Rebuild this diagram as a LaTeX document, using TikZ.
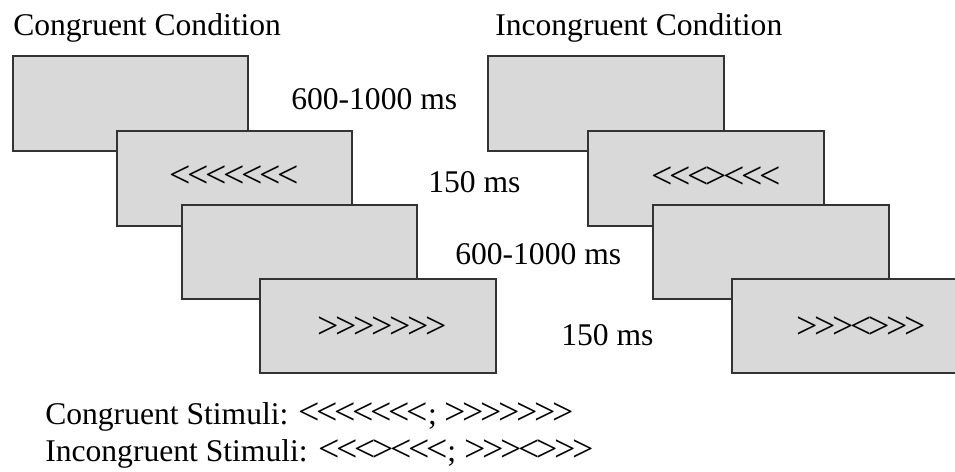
\documentclass[tikz,border=0pt]{standalone}
\usepackage{fontspec}
\setmainfont{Liberation Serif}[Ligatures=TeXOff]
\newfontfamily\chevfont{Liberation Serif}[Ligatures=TeXOff,Scale=1.2,LetterSpace=-9]
\begin{document}
\begin{tikzpicture}[x=0.75pt,y=-0.75pt,
  screen/.style={draw=black!80,line width=1.1pt,fill=black!15},
  lbl/.style={anchor=base west,inner sep=0pt,font=\fontsize{23.7}{28}\selectfont},
  stim/.style={anchor=base west,inner sep=0pt,font=\fontsize{23.7}{28}\selectfont\chevfont}]
\useasboundingbox (0,0) rectangle (955,471);
\clip (0,0) rectangle (955,471);
% titles
\node[lbl] (tc) at (13,35) {Congruent Condition};
\node[lbl] (ti) at (495,35) {Incongruent Condition};
% left column screens
\draw[screen] (13,56) rectangle (248,151) coordinate (l1);
\draw[screen] (117,131) rectangle (352,226) coordinate (l2);
\draw[screen] (182,205) rectangle (417,299) coordinate (l3);
\draw[screen] (260,279) rectangle (496,373) coordinate (l4);
\node[stim] (sl2) at (169,187) {<<<<<<<};
\node[stim] (sl4) at (317,338) {>>>>>>>};
% right column screens
\draw[screen] (488,56) rectangle (724,151) coordinate (r1);
\draw[screen] (588,131) rectangle (824,226) coordinate (r2);
\draw[screen] (653,205) rectangle (889,299) coordinate (r3);
\draw[screen] (732,279) rectangle (968,373) coordinate (r4);
\node[stim] (sr2) at (651,188) {<<<><<<};
\node[stim] (sr4) at (796,338) {>>><>>>};
% durations
\node[lbl] (d1) at (291,109) {600-1000 ms};
\node[lbl] (d2) at (428,192) {150 ms};
\node[lbl] (d3) at (455,264) {600-1000 ms};
\node[lbl] (d4) at (561,345) {150 ms};
% bottom legend
\node[lbl] (cs) at (45,424) {Congruent Stimuli: {\chevfont<<<<<<<};\ {\chevfont>>>>>>>}};
\node[lbl] (is) at (45,461) {Incongruent Stimuli: {\chevfont<<<><<<};\ {\chevfont>>><>>>}};
\end{tikzpicture}
\end{document}
